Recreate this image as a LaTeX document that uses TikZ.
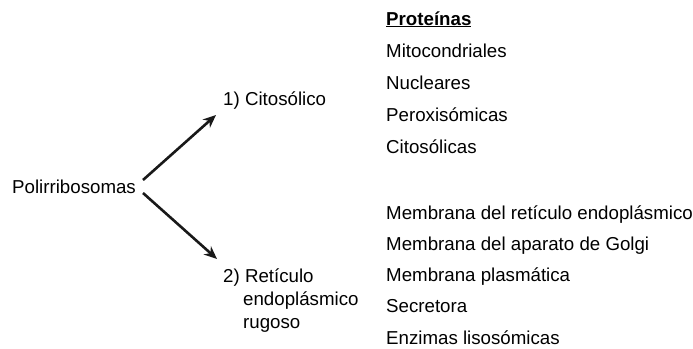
\documentclass[tikz,border=0pt]{standalone}
\usepackage{fontspec}
\setmainfont{Liberation Sans}
\usetikzlibrary{arrows.meta}

\begin{document}
\begin{tikzpicture}[
  x=1pt, y=-1pt,
  lbl/.style={anchor=base west, inner sep=0pt, font=\fontsize{18.7}{23}\selectfont, align=left},
  arr/.style={-{Stealth[length=13pt, width=11pt]}, line width=2.6pt, draw=black!90}
]
\useasboundingbox (0,0) rectangle (693,348);
\node[lbl] (poli) at (12,193) {Polirribosomas};
\node[lbl] (cito) at (223,105) {1) Citosólico};
\node[lbl] (ret) at (223,282) {2) Retículo};
\node[lbl] (ret2) at (243,305) {endoplásmico};
\node[lbl] (ret3) at (243,328) {rugoso};
\coordinate (a0) at (143,180);
\coordinate (b0) at (143,193);
\coordinate (a1) at (216,115);
\coordinate (b1) at (217,259);
\draw[arr] (a0)--(a1);
\draw[arr] (b0)--(b1);
% proteinas
\node[lbl] (prot) at (386,25) {\underline{\textbf{Proteínas}}};
\foreach \t [count=\i] in {Mitocondriales, Nucleares, Peroxisómicas, Citosólicas}
  \node[lbl] (c\i) at (386,25+32*\i) {\t};
\foreach \t [count=\i from 0] in {Membrana del retículo endoplásmico, Membrana del aparato de Golgi, Membrana plasmática, Secretora, Enzimas lisosómicas}
  \node[lbl] (r\i) at (386,219+31.25*\i) {\t};
\end{tikzpicture}
\end{document}
